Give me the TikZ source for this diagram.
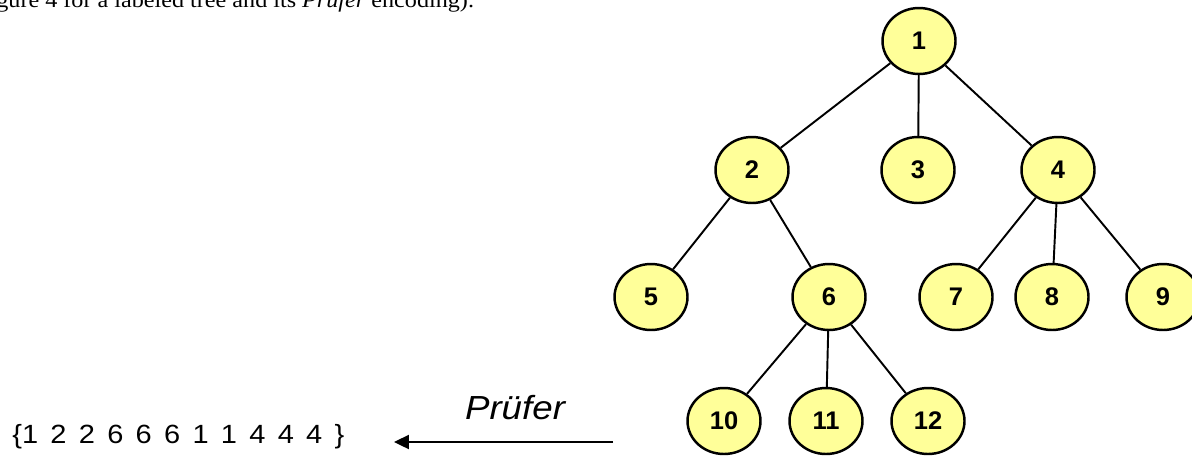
\documentclass[tikz,border=0pt]{standalone}
\usepackage{fontspec}
\newfontfamily\arialx{Liberation Sans}[FakeStretch=1.1]
\newfontfamily\arialn{Liberation Sans}
\newfontfamily\timesx{Liberation Serif}[FakeStretch=1.1]
\usetikzlibrary{shapes.geometric,arrows.meta}
\definecolor{nodeyellow}{HTML}{FFFF99}
\tikzstyle{vertex} = [ellipse, minimum width=1.46cm, minimum height=1.32cm, inner sep=0pt, text centered, draw=black, line width=1.4pt, fill=nodeyellow, font=\arialn\bfseries\fontsize{14.5}{16}\selectfont]
\tikzstyle{link} = [line width=1.1pt]
\tikzstyle{arrow} = [line width=1.1pt,->,>={Triangle[length=8.5pt,width=8pt]}]

\begin{document}
\begin{tikzpicture}[x=0.02cm,y=-0.02cm]
\useasboundingbox (0,0) rectangle (1192,457);
\node (caption) [anchor=base west, inner sep=0pt, font=\timesx\fontsize{12.5}{14}\selectfont] at (-4,7) {gure 4 for a labeled tree and its \textit{Prüfer} encoding).};
\node (v1) [vertex] at (919,41) {1};
\node (v2) [vertex] at (752,170) {2};
\node (v3) [vertex] at (918,170) {3};
\node (v4) [vertex] at (1058,170) {4};
\node (v5) [vertex] at (651,297) {5};
\node (v6) [vertex] at (829,297) {6};
\node (v7) [vertex] at (956,297) {7};
\node (v8) [vertex] at (1052,297) {8};
\node (v9) [vertex] at (1163,297) {9};
\node (v10) [vertex] at (724,421) {10};
\node (v11) [vertex] at (826,421) {11};
\node (v12) [vertex] at (928,421) {12};

\draw [link] (v1) -- (v2);
\draw [link] (v1) -- (v3);
\draw [link] (v1) -- (v4);
\draw [link] (v2) -- (v5);
\draw [link] (v2) -- (v6);
\draw [link] (v4) -- (v7);
\draw [link] (v4) -- (v8);
\draw [link] (v4) -- (v9);
\draw [link] (v6) -- (v10);
\draw [link] (v6) -- (v11);
\draw [link] (v6) -- (v12);

% encoding sequence and arrow
\node (code) [anchor=base west, inner sep=0pt, font=\arialx\fontsize{15}{17}\selectfont] at (12,443) {\spaceskip=7pt\relax\{1 2 2 6 6 6 1 1 4 4 4 \}};
\coordinate (pstart) at (613,442);
\coordinate (pend) at (394,442);
\draw [arrow] (pstart) -- (pend);
\node (prufer) [anchor=base, inner sep=0pt, font=\arialx\itshape\fontsize{19}{21}\selectfont] at (515,419) {Prüfer};
\end{tikzpicture}
\end{document}
